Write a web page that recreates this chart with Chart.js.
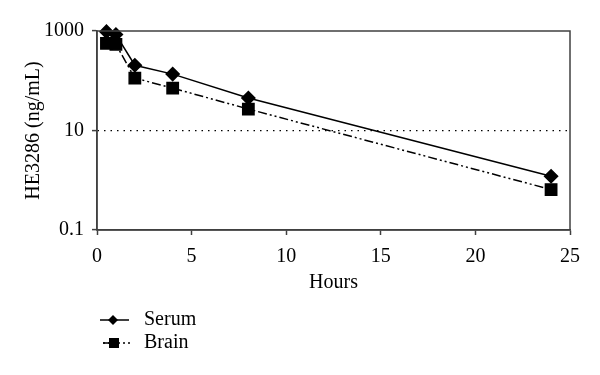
<!DOCTYPE html>
<html>
<head>
<meta charset="utf-8">
<script src="https://cdn.jsdelivr.net/npm/chart.js@4"></script>
<style>
    html, body { margin: 0; padding: 0; background: #fff; }
    #wrap { width: 600px; height: 375px; }
</style>
</head>
<body>
<div id="wrap"><canvas id="chart" width="600" height="375"></canvas></div>
<script>
const hours = [0.5, 1, 2, 4, 8, 24];
const serum = [970, 850, 205, 136, 45, 1.2];
const brain = [565, 540, 113, 71, 27, 0.65];
const yTicks = [0.1, 10, 1000];

const FONT = 'Liberation Serif, Times New Roman, serif';
const AXIS_COLOR = '#404040';
const BRAIN_DASH = [9, 3, 2, 3, 2, 3];

// box around the plot + legend under the chart
const framePlugin = {
    id: 'frame',
    afterDraw(chart) {
        const {ctx, chartArea: a} = chart;
        ctx.save();
        ctx.strokeStyle = AXIS_COLOR;
        ctx.lineWidth = 1.5;
        ctx.strokeRect(a.left, a.top, a.right - a.left, a.bottom - a.top);

        // legend
        ctx.strokeStyle = '#000';
        ctx.fillStyle = '#000';
        ctx.lineWidth = 1.5;
        let y = 320;
        ctx.beginPath();
        ctx.moveTo(100, y);
        ctx.lineTo(129, y);
        ctx.stroke();
        ctx.beginPath();
        ctx.moveTo(113 - 5, y);
        ctx.lineTo(113, y - 5);
        ctx.lineTo(113 + 5, y);
        ctx.lineTo(113, y + 5);
        ctx.closePath();
        ctx.fill();

        y = 343;
        ctx.setLineDash([2, 3]);
        ctx.beginPath();
        ctx.moveTo(103, y);
        ctx.lineTo(131, y);
        ctx.stroke();
        ctx.setLineDash([]);
        ctx.beginPath();
        ctx.moveTo(103, y);
        ctx.lineTo(114, y);
        ctx.stroke();
        ctx.fillRect(109, y - 5, 10, 10);

        ctx.font = '20px ' + FONT;
        ctx.textBaseline = 'middle';
        ctx.fillText('Serum', 144, 320);
        ctx.fillText('Brain', 144, 343);
        ctx.restore();
    }
};

const config = {
    type: 'line',
    data: {
        datasets: [
            {
                label: 'Serum',
                data: hours.map((h, i) => ({x: h, y: serum[i]})),
                borderColor: '#000',
                backgroundColor: '#000',
                borderWidth: 1.5,
                pointStyle: 'rectRot',
                pointRadius: 6.5,
                pointHoverRadius: 6.5,
                clip: 10,
                order: 1
            },
            {
                label: 'Brain',
                data: hours.map((h, i) => ({x: h, y: brain[i]})),
                borderColor: '#000',
                backgroundColor: '#000',
                borderWidth: 1.5,
                borderDash: BRAIN_DASH,
                pointStyle: 'rect',
                pointRadius: 8,
                pointHoverRadius: 8,
                clip: 10,
                order: 2
            }
        ]
    },
    options: {
        responsive: false,
        animation: false,
        layout: {
            padding: {left: 22, right: 30, top: 31, bottom: 80}
        },
        plugins: {
            legend: {display: false},
            tooltip: {enabled: false}
        },
        scales: {
            x: {
                type: 'linear',
                min: 0,
                max: 25,
                ticks: {
                    stepSize: 5,
                    color: '#000',
                    padding: 10,
                    font: {family: FONT, size: 20}
                },
                grid: {
                    drawOnChartArea: false,
                    drawTicks: true,
                    tickLength: 5,
                    tickColor: AXIS_COLOR,
                    tickWidth: 1.5
                },
                border: {color: AXIS_COLOR, width: 1.5},
                title: {
                    display: true,
                    text: 'Hours',
                    color: '#000',
                    padding: {top: 0, bottom: 0},
                    font: {family: FONT, size: 20}
                },
                afterFit: scale => { scale.height = 65; }
            },
            y: {
                type: 'logarithmic',
                min: 0.1,
                max: 1000,
                afterBuildTicks: scale => {
                    scale.ticks = yTicks.map(v => ({value: v}));
                },
                ticks: {
                    color: '#000',
                    padding: 8,
                    font: {family: FONT, size: 20},
                    callback: v => String(v)
                },
                grid: {
                    color: ctx => (ctx.tick && ctx.tick.value === 10) ? '#000' : 'rgba(0,0,0,0)',
                    lineWidth: 1.2,
                    drawTicks: true,
                    tickLength: 5,
                    tickColor: AXIS_COLOR,
                    tickWidth: 1.5
                },
                border: {color: AXIS_COLOR, width: 1.5, dash: [1.5, 5]},
                title: {
                    display: true,
                    text: 'HE3286 (ng/mL)',
                    color: '#000',
                    padding: {top: 0, bottom: 8},
                    font: {family: FONT, size: 20}
                },
                afterFit: scale => { scale.width = 75; }
            }
        }
    },
    plugins: [framePlugin]
};

new Chart(document.getElementById('chart'), config);
</script>
</body>
</html>
